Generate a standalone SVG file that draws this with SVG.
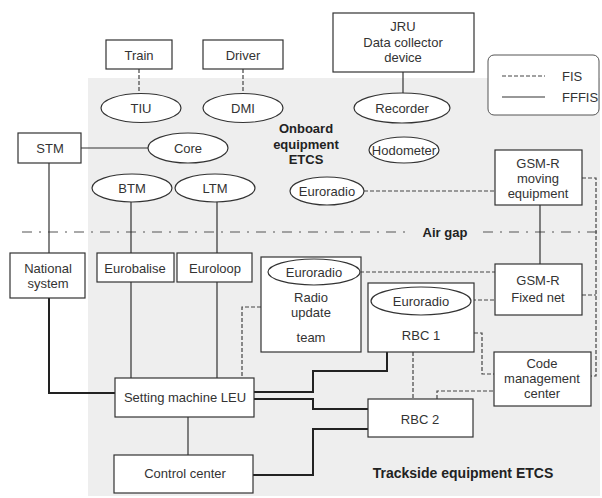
<svg xmlns="http://www.w3.org/2000/svg" width="602" height="498" viewBox="0 0 602 498">
<style>
.n{fill:#fff;stroke:#333;stroke-width:1.2}
.t{font-family:"Liberation Sans",Arial,sans-serif;font-size:13px;fill:#333;text-anchor:middle;dominant-baseline:central}
.b{font-family:"Liberation Sans",Arial,sans-serif;font-weight:bold;fill:#222;text-anchor:middle;dominant-baseline:central}
.s{fill:none;stroke:#333;stroke-width:1.2}
.w{fill:none;stroke:#222;stroke-width:2}
.d{fill:none;stroke:#444;stroke-width:1.2;stroke-dasharray:4,2}
</style>
<rect width="602" height="498" fill="#fff"/>
<rect x="88" y="78" width="512" height="418" fill="#eeeeee"/>
<g id="airgap">
<path d="M22,232H410M483,232H598" fill="none" stroke="#555" stroke-width="1.2" stroke-dasharray="10,7,2,7"/>
<text class="b" x="445" y="232" font-size="13">Air gap</text>
</g>
<g id="legend">
<rect x="488" y="55" width="111" height="60" rx="6" fill="#fff" stroke="#555"/>
<path class="d" d="M502,76H545"/>
<path class="s" d="M502,97H545"/>
<text class="t" x="562" y="76" text-anchor="start" style="text-anchor:start">FIS</text>
<text class="t" x="562" y="97" style="text-anchor:start">FFFIS</text>
</g>
<g id="connectors">
<path class="d" d="M139,69V94"/>
<path class="d" d="M243,69V94"/>
<path class="s" d="M403,72V93"/>
<path class="s" d="M81,148H148"/>
<path class="s" d="M49,163V253"/>
<path class="w" d="M49,298V393H115"/>
<path class="s" d="M131,202V253M131,282V378"/>
<path class="s" d="M217,202V253M217,282V378"/>
<path class="d" d="M364,191H495"/>
<path class="s" d="M540,205V264"/>
<path class="d" d="M582,178H596V376H591"/>
<path class="d" d="M582,295H596"/>
<path class="d" d="M360,272H495"/>
<path class="d" d="M472,300H495"/>
<path class="d" d="M261,307H242V378"/>
<path class="w" d="M254,392H313V371H387V352"/>
<path class="w" d="M254,399H313V409H368"/>
<path class="w" d="M253,475H313V429H368"/>
<path class="s" d="M188,417V455"/>
<path class="d" d="M413,352V399"/>
<path class="d" d="M474,333H482V374H494"/>
<path class="d" d="M437,399V391H494"/>
</g>
<g id="train"><rect class="n" x="106" y="40" width="66" height="29"/><text class="t" x="139" y="55">Train</text></g>
<g id="driver"><rect class="n" x="203" y="40" width="80" height="29"/><text class="t" x="243" y="55">Driver</text></g>
<g id="jru"><rect class="n" x="333" y="13" width="141" height="59"/><text class="t" x="403" y="26">JRU</text><text class="t" x="403" y="42">Data collector</text><text class="t" x="403" y="57">device</text></g>
<g id="tiu"><ellipse class="n" cx="141" cy="108" rx="40" ry="14.5"/><text class="t" x="141" y="108">TIU</text></g>
<g id="dmi"><ellipse class="n" cx="243" cy="108" rx="40" ry="14.5"/><text class="t" x="243" y="108">DMI</text></g>
<g id="recorder"><ellipse class="n" cx="402" cy="108" rx="48" ry="15"/><text class="t" x="402" y="108">Recorder</text></g>
<g id="onboard-label"><text class="b" x="306" y="128" font-size="13">Onboard</text><text class="b" x="306" y="144" font-size="13">equipment</text><text class="b" x="306" y="159" font-size="13">ETCS</text></g>
<g id="stm"><rect class="n" x="18" y="133" width="63" height="30"/><text class="t" x="50" y="148">STM</text></g>
<g id="core"><ellipse class="n" cx="188" cy="148" rx="40" ry="15"/><text class="t" x="188" y="148">Core</text></g>
<g id="hodometer"><ellipse class="n" cx="404" cy="150" rx="35" ry="13"/><text class="t" x="404" y="150">Hodometer</text></g>
<g id="btm"><ellipse class="n" cx="132" cy="188" rx="40" ry="14"/><text class="t" x="132" y="188">BTM</text></g>
<g id="ltm"><ellipse class="n" cx="215" cy="188" rx="40" ry="14"/><text class="t" x="215" y="188">LTM</text></g>
<g id="euroradio-onboard"><ellipse class="n" cx="327" cy="191" rx="37" ry="14"/><text class="t" x="327" y="191">Euroradio</text></g>
<g id="gsmr-moving"><rect class="n" x="495" y="150" width="87" height="55"/><text class="t" x="538" y="163">GSM-R</text><text class="t" x="538" y="178">moving</text><text class="t" x="538" y="193">equipment</text></g>
<g id="national"><rect class="n" x="10" y="253" width="75" height="45"/><text class="t" x="48" y="268">National</text><text class="t" x="48" y="283">system</text></g>
<g id="eurobalise"><rect class="n" x="97" y="253" width="77" height="29"/><text class="t" x="135" y="268">Eurobalise</text></g>
<g id="euroloop"><rect class="n" x="177" y="253" width="75" height="29"/><text class="t" x="215" y="268">Euroloop</text></g>
<g id="radio-update"><rect class="n" x="261" y="257" width="100" height="95"/><ellipse class="n" cx="314" cy="272" rx="46" ry="13"/><text class="t" x="314" y="272">Euroradio</text><text class="t" x="311" y="297">Radio</text><text class="t" x="311" y="312">update</text><text class="t" x="311" y="337">team</text></g>
<g id="gsmr-fixed"><rect class="n" x="495" y="264" width="87" height="51"/><text class="t" x="538" y="280">GSM-R</text><text class="t" x="538" y="297">Fixed net</text></g>
<g id="rbc1"><rect class="n" x="368" y="283" width="106" height="69"/><ellipse class="n" cx="421" cy="301" rx="50" ry="14"/><text class="t" x="421" y="301">Euroradio</text><text class="t" x="421" y="335">RBC 1</text></g>
<g id="code-mgmt"><rect class="n" x="494" y="352" width="97" height="54"/><text class="t" x="542" y="363">Code</text><text class="t" x="542" y="378">management</text><text class="t" x="542" y="393">center</text></g>
<g id="leu"><rect class="n" x="115" y="378" width="139" height="39"/><text class="t" x="185" y="397">Setting machine LEU</text></g>
<g id="rbc2"><rect class="n" x="368" y="399" width="105" height="38"/><text class="t" x="420" y="419">RBC 2</text></g>
<g id="control"><rect class="n" x="114" y="455" width="139" height="38"/><text class="t" x="185" y="473">Control center</text></g>
<g id="trackside-label"><text class="b" x="463" y="473" font-size="14">Trackside equipment ETCS</text></g>
</svg>
